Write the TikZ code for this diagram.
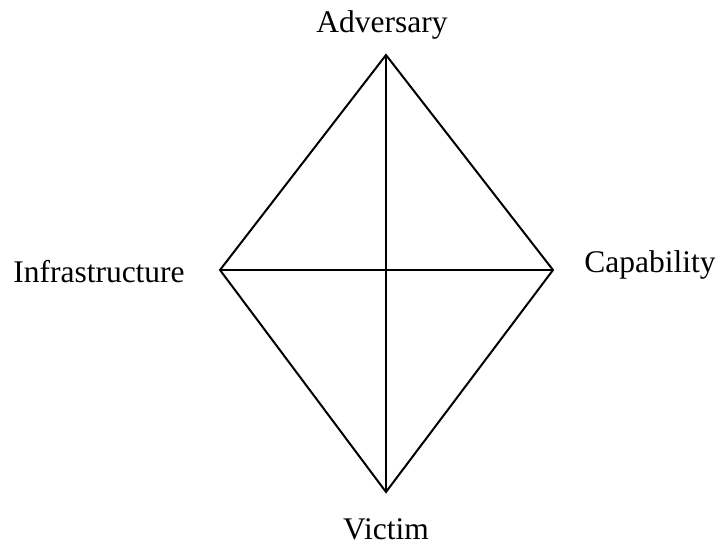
\documentclass[tikz,border=0pt]{standalone}
\usepackage{fontspec}
\setmainfont{Liberation Serif}
\usetikzlibrary{calc}

\begin{document}
\begin{tikzpicture}[x=1pt,y=-1pt,line width=2pt,
  lbl/.style={anchor=base,inner sep=0pt,font=\fontsize{31.5}{36}\selectfont}]
                \useasboundingbox (0,0) rectangle (719,545);
                \coordinate (A) at (386,55);
                \coordinate (V) at (386,492);
                \coordinate (I) at (220,270);
                \coordinate (C) at (553,270);

                \node[lbl] (adversary) at (382,33) {Adversary};
                \node[lbl] (victim) at (386,539) {Victim};
                \node[lbl] (infrastructure) at (99,282) {Infrastructure};
                \node[lbl] (capability) at (650,272) {Capability};
                \draw[line join=miter]
                (A) -- (C) -- (V) -- (I) -- cycle;
                \path[draw]
                (A) edge (V)
                (I) edge (C);
                \end{tikzpicture}
\end{document}
